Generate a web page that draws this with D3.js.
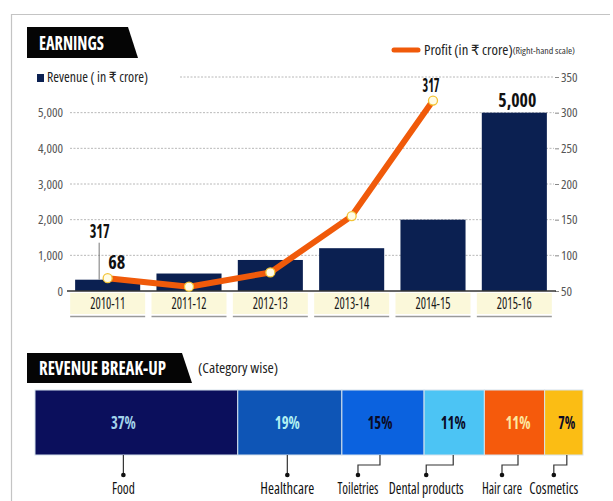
<!DOCTYPE html>
<html>
<head>
<meta charset="utf-8">
<script src="https://cdn.jsdelivr.net/npm/d3@7"></script>
<style>
  body { margin: 0; background: #fff; }
  svg { display: block; }
</style>
</head>
<body>
<svg id="chart" width="613" height="501"></svg>
<script>
// ---- data ----
const years = ["2010-11", "2011-12", "2012-13", "2013-14", "2014-15", "2015-16"];
const revenue = [317, 490, 870, 1200, 2000, 5000];      // ₹ crore, left scale
const profit = [68, 56, 76, 155, 317, null];            // ₹ crore, right scale
const revenueTicks = [0, 1000, 2000, 3000, 4000, 5000];
const profitTicks = [50, 100, 150, 200, 250, 300, 350];
const categories = ["Food", "Healthcare", "Toiletries", "Dental products", "Hair care", "Cosmetics"];
const shares = [37, 19, 15, 11, 11, 7];                 // % of revenue

// ---- styling ----
const NAVY = "#0b2051";
const ORANGE = "#f05a0a";
const segColors = ["#0b0f5c", "#0e55b6", "#0b62df", "#4cc4f4", "#f55a0c", "#fbbd14"];
const pctColors = ["#a3d3ea", "#b2f0f2", "#0a0a26", "#0a0a26", "#fde8a0", "#0a0a26"];

const svg = d3.select("#chart");
svg.append("rect").attr("width", 613).attr("height", 501).attr("fill", "#fff");

// pick the narrowest condensed face that is installed
const faces = [
  { family: "'Liberation Sans Narrow'", stretch: "normal" },
  { family: "'Noto Sans'", stretch: "62.5%" },
  { family: "'Noto Sans'", stretch: "75%" },
  { family: "'Open Sans'", stretch: "75%" },
  { family: "Roboto", stretch: "75%" },
  { family: "'DejaVu Sans'", stretch: "condensed" }
];
const probe = svg.append("text").attr("x", -500).attr("y", -500).attr("font-size", 20)
  .text("Revenue Profit Healthcare 2010-11");
let face = faces[faces.length - 1], best = Infinity;
faces.forEach(f => {
  probe.style("font-family", f.family + ",sans-serif").style("font-stretch", f.stretch);
  const w = probe.node().getComputedTextLength();
  if (w < best - 0.5) { best = w; face = f; }
});
probe.remove();
svg.style("font-family", face.family + ",'DejaVu Sans',sans-serif").style("font-stretch", face.stretch);

// size a text: shrink only if its natural width runs past maxNat, then set its drawn width
function fit(sel, size, width, maxNat) {
  sel.attr("font-size", size);
  if (maxNat) {
    const L = sel.node().getComputedTextLength();
    if (L > maxNat) sel.attr("font-size", size * maxNat / L);
  }
  if (width) sel.attr("textLength", width).attr("lengthAdjust", "spacingAndGlyphs");
  return sel;
}

// outer frame (top and left edges)
svg.append("path").attr("d", "M11.5,501 V14.5 H610")
  .attr("fill", "none").attr("stroke", "#c4c4c4").attr("stroke-width", 1.2);

// section header tab
function header(x, y, w, h, slant, label, textW, maxNat) {
  svg.append("path")
    .attr("d", `M${x},${y} H${x + w} L${x + w + slant},${y + h} H${x} Z`)
    .attr("fill", "#050505");
  const t = svg.append("text").attr("x", x + 12).attr("y", y + h - 8)
    .attr("fill", "#fff").attr("font-weight", "bold").text(label);
  fit(t, 20, textW, maxNat);
}

// =================== EARNINGS ===================
header(27, 27, 101, 31, 10, "EARNINGS", 65, 95);

const x = d3.scaleBand().domain(years).range([67, 555]).paddingInner(0.2).paddingOuter(0.1);
const yL = d3.scaleLinear().domain([0, 6000]).range([291, 77]);
const yR = d3.scaleLinear().domain([50, 350]).range([291, 77]);
const cx = d => x(d) + x.bandwidth() / 2;

// dotted gridlines
svg.append("g").selectAll("line").data(profitTicks.slice(1)).join("line")
  .attr("x1", d => d === 350 ? 180 : 70).attr("x2", 554)
  .attr("y1", d => yR(d)).attr("y2", d => yR(d))
  .attr("stroke", "#b8b8b8").attr("stroke-width", 1).attr("stroke-dasharray", "2,1.5");

// legend: revenue
svg.append("rect").attr("x", 37).attr("y", 74).attr("width", 7).attr("height", 8).attr("fill", NAVY);
fit(svg.append("text").attr("x", 47).attr("y", 82).attr("fill", "#222")
  .text("Revenue ( in ₹ crore)"), 14, 101, 125);

// legend: profit
svg.append("line").attr("x1", 394).attr("x2", 418).attr("y1", 50).attr("y2", 50)
  .attr("stroke", ORANGE).attr("stroke-width", 5).attr("stroke-linecap", "round");
const pl = svg.append("text").attr("x", 424).attr("y", 55).attr("fill", "#222");
pl.append("tspan").attr("font-size", 14).text("Profit (in ₹ crore)");
pl.append("tspan").attr("font-size", 9.5).attr("fill", "#333").attr("dy", -1).text("(Right-hand scale)");
{
  const L = pl.node().getComputedTextLength();
  if (L > 180) pl.selectAll("tspan").attr("font-size", function () { return +this.getAttribute("font-size") * 180 / L; });
  pl.attr("textLength", 151).attr("lengthAdjust", "spacingAndGlyphs");
}

// left axis (revenue)
const axL = svg.append("g").attr("transform", "translate(66,0)")
  .call(d3.axisLeft(yL).tickValues(revenueTicks).tickFormat(d3.format(",")).tickSize(0).tickPadding(3));
axL.select(".domain").remove();
axL.selectAll("text").attr("font-family", null).attr("font-size", 13).attr("fill", "#555");

// right axis (profit)
const axR = svg.append("g").attr("transform", "translate(555,0)")
  .call(d3.axisRight(yR).tickValues(profitTicks).tickSize(4).tickPadding(2));
axR.select(".domain").remove();
axR.selectAll("line").attr("stroke", "#888");
axR.selectAll("text").attr("font-family", null).attr("font-size", 13).attr("fill", "#555");
axL.attr("font-family", null); axR.attr("font-family", null);

// category label boxes
const lab = svg.append("g").selectAll("g").data(years).join("g");
lab.append("rect").attr("x", d => cx(d) - 37.5).attr("y", 293).attr("width", 75).attr("height", 21)
  .attr("fill", "#fbf8da");
lab.append("line").attr("x1", d => cx(d) - 37.5).attr("x2", d => cx(d) + 37.5)
  .attr("y1", 316.5).attr("y2", 316.5).attr("stroke", "#9a9a9a").attr("stroke-width", 1.5);
lab.append("text").attr("x", cx).attr("y", 309).attr("text-anchor", "middle")
  .attr("fill", "#1a1a1a").text(d => d)
  .each(function () { fit(d3.select(this), 16, 35, 70); });

// revenue bars
svg.append("g").selectAll("rect").data(years).join("rect")
  .attr("x", d => x(d)).attr("width", x.bandwidth())
  .attr("y", (d, i) => yL(revenue[i])).attr("height", (d, i) => yL(0) - yL(revenue[i]))
  .attr("fill", NAVY);

// baseline
svg.append("line").attr("x1", 67).attr("x2", 556).attr("y1", 291).attr("y2", 291)
  .attr("stroke", "#333").attr("stroke-width", 1.5);

// profit line
const pts = years.map((d, i) => ({ x: cx(d), v: profit[i] }));
svg.append("path").datum(pts)
  .attr("d", d3.line().defined(p => p.v != null).x(p => p.x).y(p => yR(p.v)))
  .attr("fill", "none").attr("stroke", ORANGE).attr("stroke-width", 6)
  .attr("stroke-linejoin", "round").attr("stroke-linecap", "round");
svg.append("g").selectAll("circle").data(pts.filter(p => p.v != null)).join("circle")
  .attr("cx", p => p.x).attr("cy", p => yR(p.v)).attr("r", 4.5)
  .attr("fill", "#fffce6").attr("stroke", "#f3c437").attr("stroke-width", 1.3);

// value annotations
const fmt = d3.format(",");
const first = years[0];
svg.append("line").attr("x1", cx(first) - 8.5).attr("x2", cx(first) - 8.5)
  .attr("y1", yL(revenue[0]) - 37).attr("y2", yL(revenue[0]))
  .attr("stroke", "#777").attr("stroke-width", 1);
const bold = (xx, yy, t, w) => fit(svg.append("text").attr("x", xx).attr("y", yy)
  .attr("text-anchor", "middle").attr("font-weight", "bold")
  .attr("fill", "#111").text(t), 20, w, w * 1.6);
bold(cx(first) - 8, yL(revenue[0]) - 42, fmt(revenue[0]), 20);
bold(cx(first) + 9, yR(profit[0]) - 9, fmt(profit[0]), 17);
bold(cx(years[4]) - 2, yR(profit[4]) - 9, fmt(profit[4]), 17);
bold(cx(years[5]) + 3, yL(revenue[5]) - 6, fmt(revenue[5]), 38);

// =================== REVENUE BREAK-UP ===================
header(27, 353, 155, 30, 10, "REVENUE BREAK-UP", 127, 150);
fit(svg.append("text").attr("x", 198).attr("y", 373).attr("fill", "#222")
  .text("(Category wise)"), 15, 80, 110);

const xs = d3.scaleLinear().domain([0, d3.sum(shares)]).range([35, 583]);
const starts = d3.cumsum([0, ...shares.slice(0, -1)]);
const segs = categories.map((c, i) => ({ c, v: shares[i], s: starts[i], i }));
const barTop = 390, barBot = 455;

svg.append("g").selectAll("rect").data(segs).join("rect")
  .attr("x", d => xs(d.s)).attr("width", d => xs(d.s + d.v) - xs(d.s))
  .attr("y", barTop).attr("height", barBot - barTop)
  .attr("fill", d => segColors[d.i]).attr("stroke", "#d6e2ec").attr("stroke-width", 1);

// leader layout: anchor nudge from segment centre, label shift from anchor, label width
const anchorNudge = [-13, -2.5, -3, -1, 3.5, 3];
const labelShift = [0, 0, -22, -27, -16, -13];
const labelW = [23, 54, 41, 75, 40, 49];
const ax = d => (xs(d.s) + xs(d.s + d.v)) / 2 + anchorNudge[d.i];

svg.append("g").selectAll("text").data(segs).join("text")
  .attr("x", ax).attr("y", 429).attr("text-anchor", "middle")
  .attr("font-weight", "bold").attr("fill", d => pctColors[d.i])
  .text(d => d.v + "%")
  .each(function (d) { fit(d3.select(this), 17, d.v >= 10 ? 25 : 17, 36); });

const lead = svg.append("g").selectAll("g").data(segs).join("g");
lead.append("path")
  .attr("d", d => {
    const a = ax(d), t = a + labelShift[d.i];
    return labelShift[d.i] === 0
      ? `M${a},${barBot} V475`
      : `M${a},${barBot} V465 H${t} V475`;
  })
  .attr("fill", "none").attr("stroke", "#333").attr("stroke-width", 1.2);
lead.append("circle").attr("cx", d => ax(d) + labelShift[d.i]).attr("cy", 475).attr("r", 2.3)
  .attr("fill", "#111");
lead.append("text").attr("x", d => ax(d) + labelShift[d.i]).attr("y", 494)
  .attr("text-anchor", "middle").attr("fill", "#111")
  .text(d => d.c)
  .each(function (d) { fit(d3.select(this), 16, labelW[d.i], labelW[d.i] + 10); });
</script>
</body>
</html>
